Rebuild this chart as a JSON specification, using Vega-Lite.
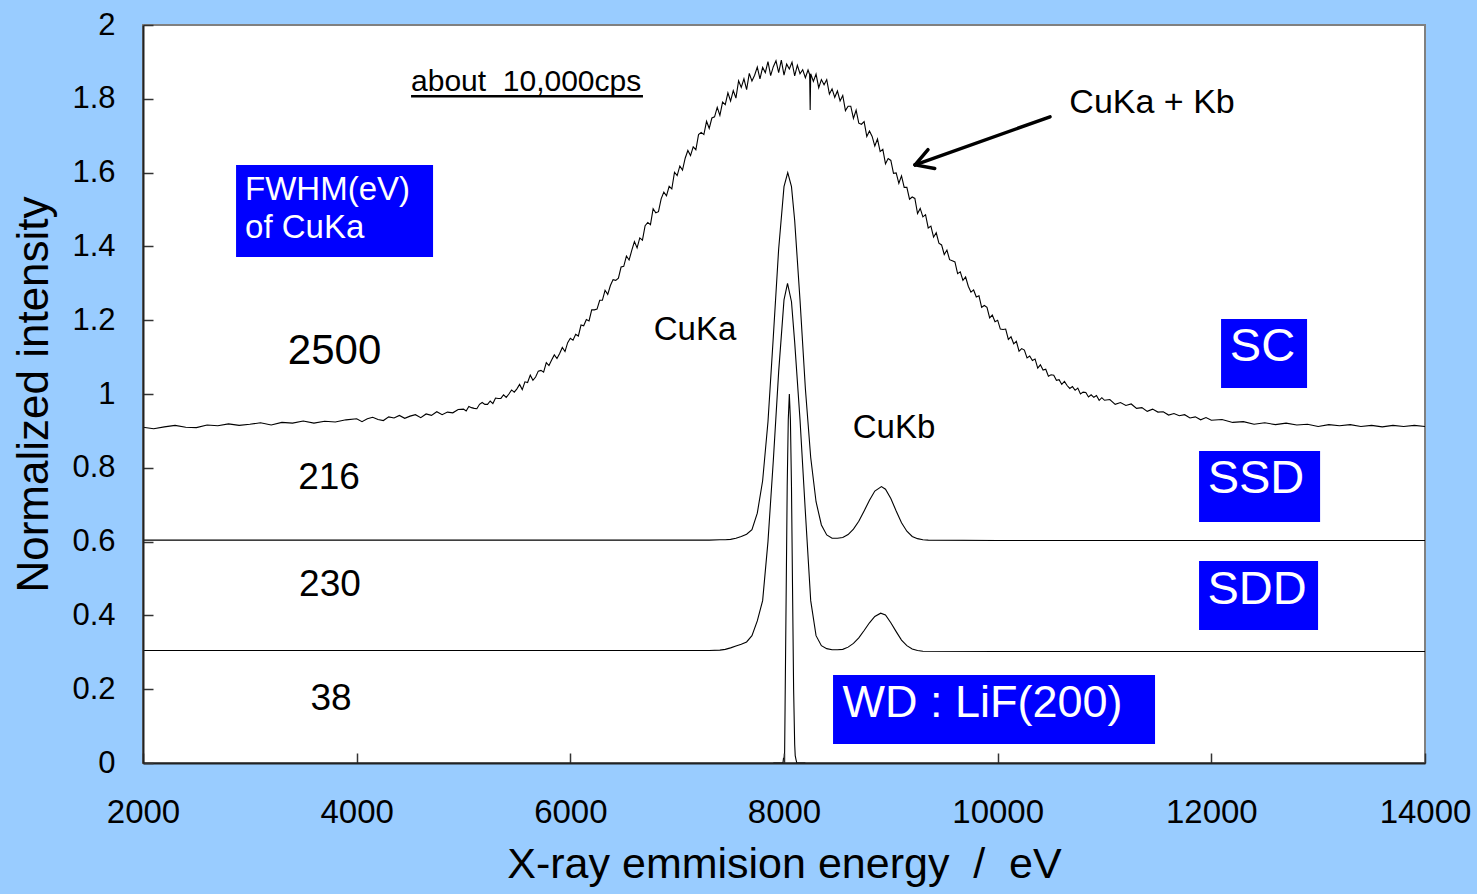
{
  "$schema": "https://vega.github.io/schema/vega-lite/v6.json",
  "width": 1282,
  "height": 738,
  "autosize": {"type": "none"},
  "padding": {"left": 143, "top": 25, "right": 52, "bottom": 131},
  "background": "#99CCFF",
  "config": {
    "font": "Liberation Sans",
    "view": {"fill": "white", "stroke": "#808080", "strokeWidth": 2}
  },
  "data": {"values": [{}]},
  "datasets": {
    "spectra": [
      {"E":2000,"I":0.910,"d":"SC"},{"E":2100,"I":0.906,"d":"SC"},{"E":2200,"I":0.911,"d":"SC"},{"E":2300,"I":0.915,"d":"SC"},{"E":2400,"I":0.910,"d":"SC"},{"E":2500,"I":0.909,"d":"SC"},{"E":2600,"I":0.916,"d":"SC"},{"E":2700,"I":0.914,"d":"SC"},{"E":2800,"I":0.919,"d":"SC"},{"E":2900,"I":0.915,"d":"SC"},{"E":3000,"I":0.918,"d":"SC"},{"E":3100,"I":0.922,"d":"SC"},{"E":3200,"I":0.916,"d":"SC"},{"E":3300,"I":0.923,"d":"SC"},{"E":3400,"I":0.921,"d":"SC"},{"E":3500,"I":0.927,"d":"SC"},{"E":3600,"I":0.921,"d":"SC"},{"E":3700,"I":0.926,"d":"SC"},{"E":3800,"I":0.924,"d":"SC"},{"E":3900,"I":0.930,"d":"SC"},
      {"E":4000,"I":0.933,"d":"SC"},{"E":4050,"I":0.925,"d":"SC"},{"E":4100,"I":0.933,"d":"SC"},{"E":4150,"I":0.937,"d":"SC"},{"E":4200,"I":0.931,"d":"SC"},{"E":4250,"I":0.928,"d":"SC"},{"E":4300,"I":0.938,"d":"SC"},{"E":4350,"I":0.935,"d":"SC"},{"E":4400,"I":0.942,"d":"SC"},{"E":4450,"I":0.934,"d":"SC"},{"E":4500,"I":0.940,"d":"SC"},{"E":4550,"I":0.944,"d":"SC"},{"E":4600,"I":0.936,"d":"SC"},{"E":4650,"I":0.946,"d":"SC"},{"E":4700,"I":0.942,"d":"SC"},{"E":4750,"I":0.952,"d":"SC"},{"E":4800,"I":0.944,"d":"SC"},{"E":4850,"I":0.951,"d":"SC"},{"E":4900,"I":0.949,"d":"SC"},{"E":4950,"I":0.958,"d":"SC"},
      {"E":5000,"I":0.959,"d":"SC"},{"E":5025,"I":0.954,"d":"SC"},{"E":5050,"I":0.966,"d":"SC"},{"E":5075,"I":0.963,"d":"SC"},{"E":5100,"I":0.961,"d":"SC"},{"E":5125,"I":0.960,"d":"SC"},{"E":5150,"I":0.972,"d":"SC"},{"E":5175,"I":0.977,"d":"SC"},{"E":5200,"I":0.972,"d":"SC"},{"E":5225,"I":0.972,"d":"SC"},{"E":5250,"I":0.981,"d":"SC"},{"E":5275,"I":0.974,"d":"SC"},{"E":5300,"I":0.989,"d":"SC"},{"E":5325,"I":0.988,"d":"SC"},{"E":5350,"I":0.988,"d":"SC"},{"E":5375,"I":0.998,"d":"SC"},{"E":5400,"I":0.991,"d":"SC"},{"E":5425,"I":1.000,"d":"SC"},{"E":5450,"I":1.011,"d":"SC"},{"E":5475,"I":1.005,"d":"SC"},{"E":5500,"I":1.014,"d":"SC"},
      {"E":5525,"I":1.026,"d":"SC"},{"E":5550,"I":1.012,"d":"SC"},{"E":5575,"I":1.033,"d":"SC"},{"E":5600,"I":1.031,"d":"SC"},{"E":5625,"I":1.051,"d":"SC"},{"E":5650,"I":1.037,"d":"SC"},{"E":5675,"I":1.046,"d":"SC"},{"E":5700,"I":1.062,"d":"SC"},{"E":5725,"I":1.064,"d":"SC"},{"E":5750,"I":1.059,"d":"SC"},{"E":5775,"I":1.085,"d":"SC"},{"E":5800,"I":1.077,"d":"SC"},{"E":5825,"I":1.092,"d":"SC"},{"E":5850,"I":1.106,"d":"SC"},{"E":5875,"I":1.096,"d":"SC"},{"E":5900,"I":1.110,"d":"SC"},{"E":5925,"I":1.126,"d":"SC"},{"E":5950,"I":1.115,"d":"SC"},{"E":5975,"I":1.139,"d":"SC"},{"E":6000,"I":1.151,"d":"SC"},{"E":6025,"I":1.146,"d":"SC"},{"E":6050,"I":1.162,"d":"SC"},{"E":6075,"I":1.157,"d":"SC"},{"E":6100,"I":1.187,"d":"SC"},{"E":6125,"I":1.185,"d":"SC"},{"E":6150,"I":1.202,"d":"SC"},{"E":6175,"I":1.198,"d":"SC"},{"E":6200,"I":1.228,"d":"SC"},{"E":6225,"I":1.228,"d":"SC"},{"E":6250,"I":1.230,"d":"SC"},{"E":6275,"I":1.254,"d":"SC"},{"E":6300,"I":1.254,"d":"SC"},{"E":6325,"I":1.281,"d":"SC"},{"E":6350,"I":1.270,"d":"SC"},{"E":6375,"I":1.294,"d":"SC"},{"E":6400,"I":1.310,"d":"SC"},{"E":6425,"I":1.308,"d":"SC"},{"E":6450,"I":1.314,"d":"SC"},{"E":6475,"I":1.344,"d":"SC"},{"E":6500,"I":1.346,"d":"SC"},
      {"E":6525,"I":1.374,"d":"SC"},{"E":6550,"I":1.363,"d":"SC"},{"E":6575,"I":1.389,"d":"SC"},{"E":6600,"I":1.413,"d":"SC"},{"E":6625,"I":1.396,"d":"SC"},{"E":6650,"I":1.423,"d":"SC"},{"E":6675,"I":1.417,"d":"SC"},{"E":6700,"I":1.456,"d":"SC"},{"E":6725,"I":1.465,"d":"SC"},{"E":6750,"I":1.459,"d":"SC"},{"E":6775,"I":1.502,"d":"SC"},{"E":6800,"I":1.491,"d":"SC"},{"E":6825,"I":1.494,"d":"SC"},{"E":6850,"I":1.529,"d":"SC"},{"E":6875,"I":1.547,"d":"SC"},{"E":6900,"I":1.537,"d":"SC"},{"E":6925,"I":1.563,"d":"SC"},{"E":6950,"I":1.556,"d":"SC"},{"E":6975,"I":1.601,"d":"SC"},{"E":7000,"I":1.592,"d":"SC"},{"E":7025,"I":1.618,"d":"SC"},{"E":7050,"I":1.607,"d":"SC"},{"E":7075,"I":1.639,"d":"SC"},{"E":7100,"I":1.660,"d":"SC"},{"E":7125,"I":1.646,"d":"SC"},{"E":7150,"I":1.670,"d":"SC"},{"E":7175,"I":1.662,"d":"SC"},{"E":7200,"I":1.703,"d":"SC"},{"E":7225,"I":1.709,"d":"SC"},{"E":7250,"I":1.703,"d":"SC"},{"E":7275,"I":1.739,"d":"SC"},{"E":7300,"I":1.720,"d":"SC"},{"E":7325,"I":1.748,"d":"SC"},{"E":7350,"I":1.751,"d":"SC"},{"E":7375,"I":1.777,"d":"SC"},{"E":7400,"I":1.755,"d":"SC"},{"E":7425,"I":1.791,"d":"SC"},{"E":7450,"I":1.784,"d":"SC"},{"E":7475,"I":1.816,"d":"SC"},{"E":7500,"I":1.794,"d":"SC"},
      {"E":7525,"I":1.822,"d":"SC"},{"E":7550,"I":1.802,"d":"SC"},{"E":7575,"I":1.849,"d":"SC"},{"E":7600,"I":1.831,"d":"SC"},{"E":7625,"I":1.854,"d":"SC"},{"E":7650,"I":1.825,"d":"SC"},{"E":7675,"I":1.869,"d":"SC"},{"E":7700,"I":1.848,"d":"SC"},{"E":7725,"I":1.864,"d":"SC"},{"E":7750,"I":1.886,"d":"SC"},{"E":7775,"I":1.854,"d":"SC"},{"E":7800,"I":1.885,"d":"SC"},{"E":7825,"I":1.871,"d":"SC"},{"E":7850,"I":1.901,"d":"SC"},{"E":7875,"I":1.863,"d":"SC"},{"E":7900,"I":1.887,"d":"SC"},{"E":7925,"I":1.903,"d":"SC"},{"E":7950,"I":1.871,"d":"SC"},{"E":7975,"I":1.905,"d":"SC"},{"E":8000,"I":1.864,"d":"SC"},{"E":8025,"I":1.894,"d":"SC"},{"E":8050,"I":1.881,"d":"SC"},{"E":8075,"I":1.899,"d":"SC"},{"E":8100,"I":1.862,"d":"SC"},{"E":8125,"I":1.891,"d":"SC"},{"E":8150,"I":1.868,"d":"SC"},{"E":8175,"I":1.879,"d":"SC"},{"E":8200,"I":1.857,"d":"SC"},{"E":8225,"I":1.878,"d":"SC"},{"E":8240,"I":1.866,"d":"SC"},{"E":8245,"I":1.770,"d":"SC"},{"E":8250,"I":1.868,"d":"SC"},{"E":8275,"I":1.847,"d":"SC"},{"E":8300,"I":1.867,"d":"SC"},{"E":8325,"I":1.830,"d":"SC"},{"E":8350,"I":1.852,"d":"SC"},{"E":8375,"I":1.838,"d":"SC"},{"E":8400,"I":1.852,"d":"SC"},{"E":8425,"I":1.813,"d":"SC"},{"E":8450,"I":1.827,"d":"SC"},{"E":8475,"I":1.804,"d":"SC"},{"E":8500,"I":1.821,"d":"SC"},
      {"E":8525,"I":1.794,"d":"SC"},{"E":8550,"I":1.809,"d":"SC"},{"E":8575,"I":1.768,"d":"SC"},{"E":8600,"I":1.780,"d":"SC"},{"E":8625,"I":1.780,"d":"SC"},{"E":8650,"I":1.747,"d":"SC"},{"E":8675,"I":1.769,"d":"SC"},{"E":8700,"I":1.734,"d":"SC"},{"E":8725,"I":1.731,"d":"SC"},{"E":8750,"I":1.738,"d":"SC"},{"E":8775,"I":1.698,"d":"SC"},{"E":8800,"I":1.713,"d":"SC"},{"E":8825,"I":1.698,"d":"SC"},{"E":8850,"I":1.672,"d":"SC"},{"E":8875,"I":1.691,"d":"SC"},{"E":8900,"I":1.657,"d":"SC"},{"E":8925,"I":1.663,"d":"SC"},{"E":8950,"I":1.624,"d":"SC"},{"E":8975,"I":1.638,"d":"SC"},{"E":9000,"I":1.633,"d":"SC"},{"E":9025,"I":1.598,"d":"SC"},{"E":9050,"I":1.599,"d":"SC"},{"E":9075,"I":1.571,"d":"SC"},{"E":9100,"I":1.591,"d":"SC"},{"E":9125,"I":1.560,"d":"SC"},{"E":9150,"I":1.560,"d":"SC"},{"E":9175,"I":1.528,"d":"SC"},{"E":9200,"I":1.534,"d":"SC"},{"E":9225,"I":1.530,"d":"SC"},{"E":9250,"I":1.489,"d":"SC"},{"E":9275,"I":1.503,"d":"SC"},{"E":9300,"I":1.480,"d":"SC"},{"E":9325,"I":1.486,"d":"SC"},{"E":9350,"I":1.450,"d":"SC"},{"E":9375,"I":1.455,"d":"SC"},{"E":9400,"I":1.425,"d":"SC"},{"E":9425,"I":1.437,"d":"SC"},{"E":9450,"I":1.409,"d":"SC"},{"E":9475,"I":1.404,"d":"SC"},{"E":9500,"I":1.378,"d":"SC"},
      {"E":9525,"I":1.390,"d":"SC"},{"E":9550,"I":1.364,"d":"SC"},{"E":9575,"I":1.361,"d":"SC"},{"E":9600,"I":1.358,"d":"SC"},{"E":9625,"I":1.326,"d":"SC"},{"E":9650,"I":1.331,"d":"SC"},{"E":9675,"I":1.308,"d":"SC"},{"E":9700,"I":1.317,"d":"SC"},{"E":9725,"I":1.292,"d":"SC"},{"E":9750,"I":1.276,"d":"SC"},{"E":9775,"I":1.282,"d":"SC"},{"E":9800,"I":1.263,"d":"SC"},{"E":9825,"I":1.266,"d":"SC"},{"E":9850,"I":1.235,"d":"SC"},{"E":9875,"I":1.240,"d":"SC"},{"E":9900,"I":1.235,"d":"SC"},{"E":9925,"I":1.206,"d":"SC"},{"E":9950,"I":1.214,"d":"SC"},{"E":9975,"I":1.196,"d":"SC"},{"E":10000,"I":1.200,"d":"SC"},{"E":10025,"I":1.176,"d":"SC"},{"E":10050,"I":1.175,"d":"SC"},{"E":10075,"I":1.176,"d":"SC"},{"E":10100,"I":1.148,"d":"SC"},{"E":10125,"I":1.155,"d":"SC"},{"E":10150,"I":1.136,"d":"SC"},{"E":10175,"I":1.143,"d":"SC"},{"E":10200,"I":1.116,"d":"SC"},{"E":10225,"I":1.123,"d":"SC"},{"E":10250,"I":1.119,"d":"SC"},{"E":10275,"I":1.098,"d":"SC"},{"E":10300,"I":1.103,"d":"SC"},{"E":10325,"I":1.091,"d":"SC"},{"E":10350,"I":1.095,"d":"SC"},{"E":10375,"I":1.070,"d":"SC"},{"E":10400,"I":1.079,"d":"SC"},{"E":10425,"I":1.065,"d":"SC"},{"E":10450,"I":1.067,"d":"SC"},{"E":10475,"I":1.048,"d":"SC"},{"E":10500,"I":1.052,"d":"SC"},
      {"E":10525,"I":1.051,"d":"SC"},{"E":10550,"I":1.037,"d":"SC"},{"E":10575,"I":1.039,"d":"SC"},{"E":10600,"I":1.026,"d":"SC"},{"E":10625,"I":1.034,"d":"SC"},{"E":10650,"I":1.023,"d":"SC"},{"E":10675,"I":1.015,"d":"SC"},{"E":10700,"I":1.020,"d":"SC"},{"E":10725,"I":1.010,"d":"SC"},{"E":10750,"I":1.016,"d":"SC"},{"E":10775,"I":1.000,"d":"SC"},{"E":10800,"I":1.005,"d":"SC"},{"E":10825,"I":1.004,"d":"SC"},{"E":10850,"I":0.992,"d":"SC"},{"E":10875,"I":0.998,"d":"SC"},{"E":10900,"I":0.991,"d":"SC"},{"E":10925,"I":0.996,"d":"SC"},{"E":10950,"I":0.983,"d":"SC"},{"E":10975,"I":0.990,"d":"SC"},{"E":11000,"I":0.983,"d":"SC"},
      {"E":11050,"I":0.985,"d":"SC"},{"E":11100,"I":0.972,"d":"SC"},{"E":11150,"I":0.977,"d":"SC"},{"E":11200,"I":0.969,"d":"SC"},{"E":11250,"I":0.973,"d":"SC"},{"E":11300,"I":0.961,"d":"SC"},{"E":11350,"I":0.963,"d":"SC"},{"E":11400,"I":0.953,"d":"SC"},{"E":11450,"I":0.959,"d":"SC"},{"E":11500,"I":0.951,"d":"SC"},
      {"E":11550,"I":0.952,"d":"SC"},{"E":11600,"I":0.943,"d":"SC"},{"E":11650,"I":0.947,"d":"SC"},{"E":11700,"I":0.941,"d":"SC"},{"E":11750,"I":0.944,"d":"SC"},{"E":11800,"I":0.935,"d":"SC"},{"E":11850,"I":0.938,"d":"SC"},{"E":11900,"I":0.930,"d":"SC"},{"E":11950,"I":0.936,"d":"SC"},{"E":12000,"I":0.929,"d":"SC"},
      {"E":12100,"I":0.931,"d":"SC"},{"E":12200,"I":0.923,"d":"SC"},{"E":12300,"I":0.925,"d":"SC"},{"E":12400,"I":0.918,"d":"SC"},{"E":12500,"I":0.922,"d":"SC"},{"E":12600,"I":0.917,"d":"SC"},{"E":12700,"I":0.921,"d":"SC"},{"E":12800,"I":0.916,"d":"SC"},{"E":12900,"I":0.918,"d":"SC"},{"E":13000,"I":0.912,"d":"SC"},{"E":13100,"I":0.917,"d":"SC"},{"E":13200,"I":0.914,"d":"SC"},{"E":13300,"I":0.917,"d":"SC"},{"E":13400,"I":0.912,"d":"SC"},{"E":13500,"I":0.915,"d":"SC"},{"E":13600,"I":0.911,"d":"SC"},{"E":13700,"I":0.915,"d":"SC"},{"E":13800,"I":0.912,"d":"SC"},{"E":13900,"I":0.915,"d":"SC"},{"E":14000,"I":0.912,"d":"SC"},
      {"E":2000,"I":0.604,"d":"SSD"},{"E":4000,"I":0.604,"d":"SSD"},{"E":6000,"I":0.604,"d":"SSD"},{"E":7300,"I":0.604,"d":"SSD"},{"E":7400,"I":0.605,"d":"SSD"},{"E":7450,"I":0.605,"d":"SSD"},{"E":7500,"I":0.606,"d":"SSD"},{"E":7550,"I":0.609,"d":"SSD"},{"E":7600,"I":0.614,"d":"SSD"},{"E":7650,"I":0.620,"d":"SSD"},{"E":7700,"I":0.632,"d":"SSD"},{"E":7750,"I":0.677,"d":"SSD"},{"E":7800,"I":0.765,"d":"SSD"},{"E":7850,"I":0.925,"d":"SSD"},{"E":7900,"I":1.155,"d":"SSD"},{"E":7950,"I":1.393,"d":"SSD"},{"E":8000,"I":1.562,"d":"SSD"},{"E":8035,"I":1.600,"d":"SSD"},{"E":8070,"I":1.562,"d":"SSD"},{"E":8100,"I":1.470,"d":"SSD"},{"E":8150,"I":1.254,"d":"SSD"},{"E":8200,"I":1.015,"d":"SSD"},{"E":8250,"I":0.828,"d":"SSD"},{"E":8300,"I":0.708,"d":"SSD"},{"E":8350,"I":0.645,"d":"SSD"},{"E":8400,"I":0.618,"d":"SSD"},{"E":8450,"I":0.609,"d":"SSD"},{"E":8500,"I":0.609,"d":"SSD"},{"E":8550,"I":0.611,"d":"SSD"},{"E":8600,"I":0.619,"d":"SSD"},{"E":8650,"I":0.634,"d":"SSD"},{"E":8700,"I":0.655,"d":"SSD"},{"E":8750,"I":0.683,"d":"SSD"},{"E":8800,"I":0.712,"d":"SSD"},{"E":8850,"I":0.737,"d":"SSD"},{"E":8912,"I":0.749,"d":"SSD"},{"E":8950,"I":0.742,"d":"SSD"},{"E":9000,"I":0.717,"d":"SSD"},{"E":9050,"I":0.683,"d":"SSD"},{"E":9100,"I":0.651,"d":"SSD"},{"E":9150,"I":0.628,"d":"SSD"},{"E":9200,"I":0.614,"d":"SSD"},{"E":9250,"I":0.608,"d":"SSD"},{"E":9300,"I":0.605,"d":"SSD"},{"E":9350,"I":0.604,"d":"SSD"},{"E":10000,"I":0.603,"d":"SSD"},{"E":12000,"I":0.603,"d":"SSD"},{"E":14000,"I":0.603,"d":"SSD"},
      {"E":2000,"I":0.305,"d":"SDD"},{"E":4000,"I":0.305,"d":"SDD"},{"E":6000,"I":0.305,"d":"SDD"},{"E":7300,"I":0.305,"d":"SDD"},{"E":7400,"I":0.306,"d":"SDD"},{"E":7450,"I":0.308,"d":"SDD"},{"E":7500,"I":0.312,"d":"SDD"},{"E":7550,"I":0.317,"d":"SDD"},{"E":7600,"I":0.322,"d":"SDD"},{"E":7650,"I":0.328,"d":"SDD"},{"E":7700,"I":0.345,"d":"SDD"},{"E":7750,"I":0.385,"d":"SDD"},{"E":7800,"I":0.440,"d":"SDD"},{"E":7850,"I":0.600,"d":"SDD"},{"E":7900,"I":0.820,"d":"SDD"},{"E":7950,"I":1.060,"d":"SDD"},{"E":8000,"I":1.255,"d":"SDD"},{"E":8033,"I":1.300,"d":"SDD"},{"E":8070,"I":1.250,"d":"SDD"},{"E":8100,"I":1.140,"d":"SDD"},{"E":8150,"I":0.930,"d":"SDD"},{"E":8200,"I":0.680,"d":"SDD"},{"E":8250,"I":0.440,"d":"SDD"},{"E":8300,"I":0.345,"d":"SDD"},{"E":8350,"I":0.318,"d":"SDD"},{"E":8400,"I":0.310,"d":"SDD"},{"E":8450,"I":0.307,"d":"SDD"},{"E":8500,"I":0.307,"d":"SDD"},{"E":8550,"I":0.308,"d":"SDD"},{"E":8600,"I":0.314,"d":"SDD"},{"E":8650,"I":0.324,"d":"SDD"},{"E":8700,"I":0.339,"d":"SDD"},{"E":8750,"I":0.359,"d":"SDD"},{"E":8800,"I":0.380,"d":"SDD"},{"E":8850,"I":0.397,"d":"SDD"},{"E":8905,"I":0.406,"d":"SDD"},{"E":8950,"I":0.401,"d":"SDD"},{"E":9000,"I":0.380,"d":"SDD"},{"E":9050,"I":0.356,"d":"SDD"},{"E":9100,"I":0.333,"d":"SDD"},{"E":9150,"I":0.318,"d":"SDD"},{"E":9200,"I":0.309,"d":"SDD"},{"E":9250,"I":0.305,"d":"SDD"},{"E":9300,"I":0.303,"d":"SDD"},{"E":10000,"I":0.302,"d":"SDD"},{"E":12000,"I":0.302,"d":"SDD"},{"E":14000,"I":0.302,"d":"SDD"},
      {"E":7900,"I":0,"d":"WD"},{"E":7990,"I":0,"d":"WD"},{"E":7995,"I":0.012,"d":"WD"},{"E":8002,"I":0.015,"d":"WD"},{"E":8006,"I":0.03,"d":"WD"},{"E":8010,"I":0.15,"d":"WD"},{"E":8020,"I":0.45,"d":"WD"},{"E":8030,"I":0.75,"d":"WD"},{"E":8040,"I":0.93,"d":"WD"},{"E":8050,"I":1.0,"d":"WD"},{"E":8060,"I":0.93,"d":"WD"},{"E":8070,"I":0.75,"d":"WD"},{"E":8080,"I":0.47,"d":"WD"},{"E":8090,"I":0.2,"d":"WD"},{"E":8100,"I":0.05,"d":"WD"},{"E":8105,"I":0.02,"d":"WD"},{"E":8112,"I":0.01,"d":"WD"},{"E":8120,"I":0,"d":"WD"},{"E":8200,"I":0,"d":"WD"}
    ]
  },
  "layer": [
    {
      "data": {"name": "spectra"},
      "mark": {"type": "line", "color": "black", "strokeWidth": 1.1},
      "encoding": {
        "x": {
          "field": "E", "type": "quantitative",
          "scale": {"domain": [2000, 14000], "nice": false, "zero": false},
          "axis": {
            "values": [2000, 4000, 6000, 8000, 10000, 12000, 14000],
            "format": "d", "grid": false, "zindex": 1,
            "labelFontSize": 33, "labelColor": "black", "labelPadding": 43, "labelFlush": false, "labelOverlap": false,
            "tickSize": -10, "tickColor": "#333333", "tickWidth": 1.5,
            "domainColor": "#222222", "domainWidth": 2,
            "title": "X-ray emmision energy\u00a0 /\u00a0 eV", "titleFontSize": 43, "titleFontWeight": "normal", "titleColor": "black", "titlePadding": 14
          }
        },
        "y": {
          "field": "I", "type": "quantitative",
          "scale": {"domain": [0, 2], "nice": false, "zero": false},
          "axis": {
            "values": [0, 0.2, 0.4, 0.6, 0.8, 1, 1.2, 1.4, 1.6, 1.8, 2],
            "format": "~g", "grid": false, "zindex": 1,
            "labelFontSize": 31, "labelColor": "black", "labelPadding": 38, "labelFlush": false, "labelOverlap": false,
            "tickSize": -10, "tickColor": "#333333", "tickWidth": 1.5,
            "domainColor": "#222222", "domainWidth": 2,
            "title": "Normalized intensity", "titleFontSize": 44, "titleFontWeight": "normal", "titleColor": "black", "titlePadding": 15
          }
        },
        "detail": {"field": "d", "type": "nominal"}
      }
    },
    {"mark": {"type": "rect", "fill": "#0000FF"}, "encoding": {"x": {"datum": 2871}, "x2": {"datum": 4715}, "y": {"datum": 1.6206}, "y2": {"datum": 1.3713}}},
    {"mark": {"type": "rect", "fill": "#0000FF"}, "encoding": {"x": {"datum": 12091}, "x2": {"datum": 12896}, "y": {"datum": 1.2033}, "y2": {"datum": 1.0163}}},
    {"mark": {"type": "rect", "fill": "#0000FF"}, "encoding": {"x": {"datum": 11885}, "x2": {"datum": 13018}, "y": {"datum": 0.8455}, "y2": {"datum": 0.6531}}},
    {"mark": {"type": "rect", "fill": "#0000FF"}, "encoding": {"x": {"datum": 11885}, "x2": {"datum": 12999}, "y": {"datum": 0.5474}, "y2": {"datum": 0.3604}}},
    {"mark": {"type": "rect", "fill": "#0000FF"}, "encoding": {"x": {"datum": 8459}, "x2": {"datum": 11473}, "y": {"datum": 0.2385}, "y2": {"datum": 0.0515}}},
    {"mark": {"type": "text", "text": ["FWHM(eV)", "of CuKa"], "align": "left", "baseline": "middle", "fontSize": 33, "lineHeight": 38, "color": "white"}, "encoding": {"x": {"datum": 2955}, "y": {"datum": 1.553}}},
    {"mark": {"type": "text", "text": "SC", "align": "center", "baseline": "middle", "fontSize": 47, "color": "white"}, "encoding": {"x": {"datum": 12479}, "y": {"datum": 1.1274}}},
    {"mark": {"type": "text", "text": "SSD", "align": "center", "baseline": "middle", "fontSize": 47, "color": "white"}, "encoding": {"x": {"datum": 12418}, "y": {"datum": 0.7696}}},
    {"mark": {"type": "text", "text": "SDD", "align": "center", "baseline": "middle", "fontSize": 47, "color": "white"}, "encoding": {"x": {"datum": 12428}, "y": {"datum": 0.4688}}},
    {"mark": {"type": "text", "text": "WD : LiF(200)", "align": "center", "baseline": "middle", "fontSize": 45, "color": "white"}, "encoding": {"x": {"datum": 9858}, "y": {"datum": 0.1626}}},
    {"mark": {"type": "text", "text": "2500", "align": "center", "baseline": "middle", "fontSize": 42, "color": "black"}, "encoding": {"x": {"datum": 3793}, "y": {"datum": 1.1165}}},
    {"mark": {"type": "text", "text": "216", "align": "center", "baseline": "middle", "fontSize": 37, "color": "black"}, "encoding": {"x": {"datum": 3741}, "y": {"datum": 0.7724}}},
    {"mark": {"type": "text", "text": "230", "align": "center", "baseline": "middle", "fontSize": 37, "color": "black"}, "encoding": {"x": {"datum": 3750}, "y": {"datum": 0.4824}}},
    {"mark": {"type": "text", "text": "38", "align": "center", "baseline": "middle", "fontSize": 37, "color": "black"}, "encoding": {"x": {"datum": 3760}, "y": {"datum": 0.1734}}},
    {"mark": {"type": "text", "text": "CuKa", "align": "center", "baseline": "middle", "fontSize": 33, "color": "black"}, "encoding": {"x": {"datum": 7167}, "y": {"datum": 1.1734}}},
    {"mark": {"type": "text", "text": "CuKb", "align": "center", "baseline": "middle", "fontSize": 33, "color": "black"}, "encoding": {"x": {"datum": 9030}, "y": {"datum": 0.9079}}},
    {"mark": {"type": "text", "text": "CuKa + Kb", "align": "center", "baseline": "middle", "fontSize": 34, "color": "black"}, "encoding": {"x": {"datum": 11445}, "y": {"datum": 1.789}}},
    {"mark": {"type": "text", "text": "about\u00a0 10,000cps", "align": "left", "baseline": "alphabetic", "fontSize": 30, "color": "black"}, "encoding": {"x": {"datum": 4509}, "y": {"datum": 1.821}}},
    {"mark": {"type": "rule", "color": "black", "strokeWidth": 2.5}, "encoding": {"x": {"datum": 4509}, "x2": {"datum": 6680}, "y": {"datum": 1.807}}},
    {"mark": {"type": "rule", "color": "black", "strokeWidth": 3.5, "strokeCap": "round"}, "encoding": {"x": {"datum": 10490}, "y": {"datum": 1.751}, "x2": {"datum": 9227}, "y2": {"datum": 1.621}}},
    {"mark": {"type": "rule", "color": "black", "strokeWidth": 3.5, "strokeCap": "round"}, "encoding": {"x": {"datum": 9227}, "y": {"datum": 1.621}, "x2": {"datum": 9411}, "y2": {"datum": 1.611}}},
    {"mark": {"type": "rule", "color": "black", "strokeWidth": 3.5, "strokeCap": "round"}, "encoding": {"x": {"datum": 9227}, "y": {"datum": 1.621}, "x2": {"datum": 9348}, "y2": {"datum": 1.662}}}
  ]
}
